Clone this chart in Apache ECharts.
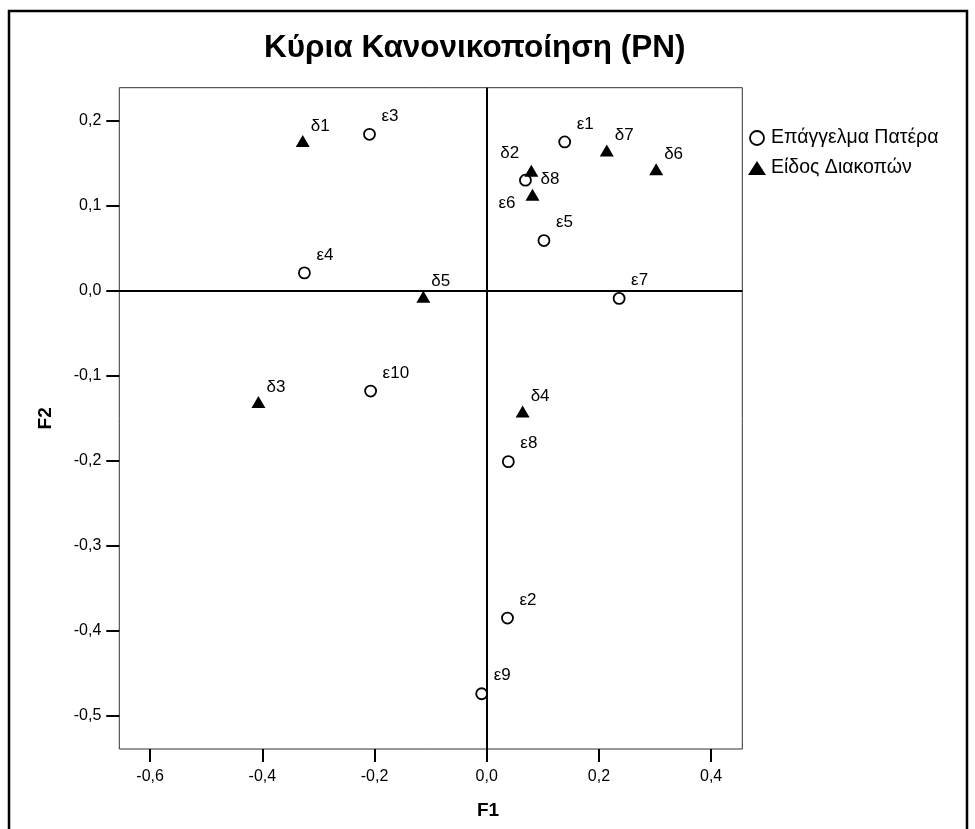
<!DOCTYPE html>
<html>
<head>
<meta charset="utf-8">
<script src="https://cdn.jsdelivr.net/npm/echarts@6/dist/echarts.min.js"></script>
<style>html,body{margin:0;padding:0;background:#fff}#c{width:975px;height:829px}</style>
</head>
<body>
<div id="c"></div>
<script>
// ---- data ----
const titleText = 'Κύρια Κανονικοποίηση (PN)';
const seriesNames = ['Επάγγελμα Πατέρα', 'Είδος Διακοπών'];
const fatherLabels = ['ε1','ε2','ε3','ε4','ε5','ε6','ε7','ε8','ε9','ε10'];
const fatherF1 = [0.139, 0.037, -0.209, -0.325, 0.102, 0.069, 0.236, 0.0385, -0.009, -0.207];
const fatherF2 = [0.175, -0.385, 0.184, 0.021, 0.059, 0.130, -0.009, -0.201, -0.474, -0.118];
const vacLabels = ['δ1','δ2','δ3','δ4','δ5','δ6','δ7','δ8'];
const vacF1 = [-0.328, 0.0795, -0.407, 0.064, -0.113, 0.302, 0.214, 0.0816];
const vacF2 = [0.176, 0.141, -0.131, -0.142, -0.007, 0.143, 0.165, 0.113];
const xTicks = [-0.6, -0.4, -0.2, 0.0, 0.2, 0.4];
const yTicks = [-0.5, -0.4, -0.3, -0.2, -0.1, 0.0, 0.1, 0.2];
const xName = 'F1';
const yName = 'F2';

// ---- presentation ----
const FONT = '"Liberation Sans", Arial, sans-serif';
const fmt = v => (Math.abs(v) < 1e-9 ? 0 : v).toFixed(1).replace('.', ',');
const circleOffset = [12, -18];
const triOffset = [8, -15];
const specialOffsets = { 'δ2': [-31, -18], 'ε6': [-27, 23] };

function buildData(xs, ys, labels, defOffset) {
  return xs.map((x, i) => {
    const off = specialOffsets[labels[i]] || defOffset;
    return { name: labels[i], value: [x, ys[i]], label: { offset: off } };
  });
}

const labelBase = {
  show: true, position: 'inside', formatter: '{b}', align: 'left', verticalAlign: 'middle',
  color: '#000', fontSize: 17, fontFamily: FONT
};

const chart = echarts.init(document.getElementById('c'), null, { renderer: 'canvas' });
chart.setOption({
  animation: false,
  backgroundColor: '#fff',
  title: {
    text: titleText, left: 259, top: 27,
    textStyle: { fontSize: 31.5, fontWeight: 'bold', color: '#000', fontFamily: FONT }
  },
  legend: {
    orient: 'vertical', left: 748, top: 128, padding: 0, itemWidth: 18, itemHeight: 14, itemGap: 10,
    textStyle: { fontSize: 19.5, color: '#000', fontFamily: FONT, lineHeight: 18 },
    data: [
      { name: seriesNames[0], icon: 'circle', itemStyle: { color: '#fff', borderColor: '#000', borderWidth: 1.8 } },
      { name: seriesNames[1], icon: 'triangle', itemStyle: { color: '#000', borderWidth: 0 } }
    ]
  },
  grid: {
    left: 119.3, right: 975 - 742.3, top: 87.7, bottom: 829 - 749,
    show: true, borderColor: '#333', borderWidth: 1, backgroundColor: 'transparent'
  },
  xAxis: {
    type: 'value', min: -0.655, max: 0.4556,
    axisLine: { show: false, onZero: false },
    splitLine: { show: false },
    axisTick: { show: true, length: 13, inside: false, customValues: xTicks, lineStyle: { color: '#000', width: 2 } },
    axisLabel: { customValues: xTicks, formatter: fmt, margin: 20, color: '#000', fontSize: 16, fontFamily: FONT }
  },
  yAxis: {
    type: 'value', min: -0.539, max: 0.2388,
    axisLine: { show: false, onZero: false },
    splitLine: { show: false },
    name: yName, nameLocation: 'middle', nameGap: 64, nameRotate: 90,
    nameTextStyle: { fontSize: 19, fontWeight: 'bold', color: '#000', fontFamily: FONT },
    axisTick: { show: true, length: 13, inside: false, customValues: yTicks, lineStyle: { color: '#000', width: 2 } },
    axisLabel: { customValues: yTicks, formatter: fmt, margin: 18, color: '#000', fontSize: 16, fontFamily: FONT }
  },
  graphic: [
    { type: 'rect', silent: true, shape: { x: 9, y: 11, width: 958, height: 850 },
      style: { fill: 'none', stroke: '#000', lineWidth: 2.5 } },
    { type: 'text', silent: true, x: 488, y: 811,
      style: { text: xName, fontSize: 19, fontWeight: 'bold', fill: '#000', font: 'bold 19px ' + FONT,
               textAlign: 'center', textVerticalAlign: 'middle' } }
  ],
  series: [
    {
      name: seriesNames[0], type: 'scatter', symbol: 'circle', symbolSize: 11, z: 3,
      itemStyle: { color: '#fff', borderColor: '#000', borderWidth: 1.8, opacity: 1 },
      label: Object.assign({}, labelBase, { offset: circleOffset }),
      data: buildData(fatherF1, fatherF2, fatherLabels, circleOffset),
      markLine: {
        silent: true, symbol: 'none', animation: false,
        label: { show: false },
        lineStyle: { color: '#000', width: 2, type: 'solid' },
        data: [{ xAxis: 0 }, { yAxis: 0 }]
      }
    },
    {
      name: seriesNames[1], type: 'scatter', symbol: 'triangle', symbolSize: [14, 12], z: 4,
      itemStyle: { color: '#000', opacity: 1 },
      label: Object.assign({}, labelBase, { offset: triOffset }),
      data: buildData(vacF1, vacF2, vacLabels, triOffset)
    }
  ]
});
</script>
</body>
</html>
